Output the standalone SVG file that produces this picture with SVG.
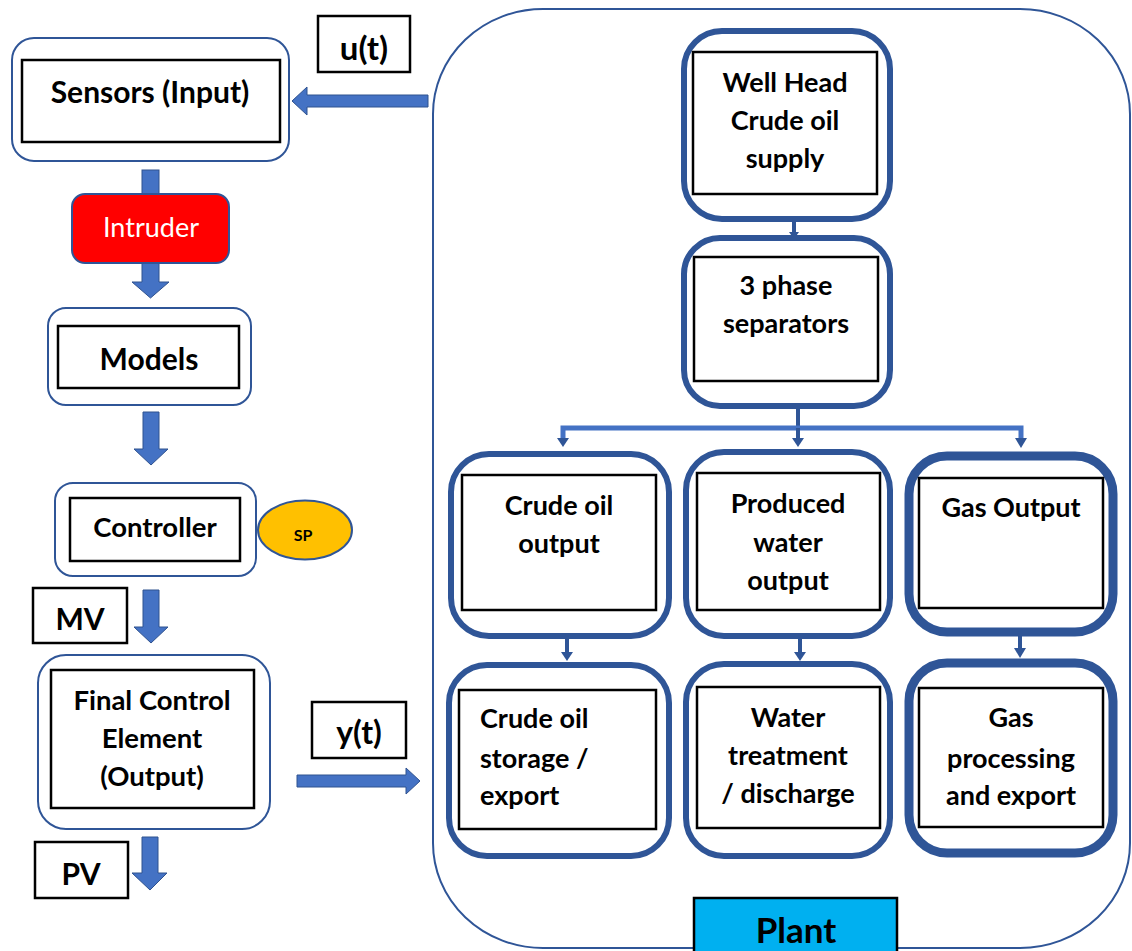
<svg xmlns="http://www.w3.org/2000/svg" width="1132" height="951" viewBox="0 0 1132 951">
  <defs>
    <style>
      .outer { fill: #ffffff; stroke: #2F5597; stroke-width: 2; }
      .inner { fill: #ffffff; stroke: #000000; stroke-width: 2.5; }
      .stage { fill: #ffffff; stroke: #2F5597; stroke-width: 6; }
      .stage-thick { fill: #ffffff; stroke: #2F5597; stroke-width: 9; }
      .label { fill: #ffffff; stroke: #000000; stroke-width: 2.5; }
      .t { font-family: Lato, "Liberation Sans", sans-serif; font-weight: bold; fill: #000000; text-anchor: middle; }
      .ts { text-anchor: start; }
      .big { font-size: 30px; }
      .mid { font-size: 27.5px; }
      .pl { font-size: 27px; }
      .arrow { fill: #4472C4; stroke: #2F528F; stroke-width: 1; }
      .flow { fill: none; stroke: #2F5597; stroke-width: 4; }
      .branch { fill: none; stroke: #4472C4; stroke-width: 5; }
      .head { fill: #2F5597; }
    </style>
  </defs>

  <!-- plant container -->
  <g id="plant">
    <rect x="433" y="9" width="697" height="939" rx="110" ry="105" fill="none" stroke="#2F5597" stroke-width="2"/>
    <rect x="694" y="898" width="203" height="60" fill="#00B0F0" stroke="#000000" stroke-width="2.5"/>
    <text class="t" x="796" y="943" font-size="35">Plant</text>
  </g>

  <!-- block arrows and flow lines -->
  <g id="connectors">
    <!-- plant to sensors -->
    <path class="arrow" d="M428,95 L307,95 L307,87 L292,101 L307,115 L307,107 L428,107 Z"/>
    <!-- sensors to intruder -->
    <rect class="arrow" x="142" y="170" width="17" height="26"/>
    <!-- intruder to models -->
    <path class="arrow" d="M142,263 L159,263 L159,282 L169,282 L150.5,298 L132,282 L142,282 Z"/>
    <!-- models to controller -->
    <path class="arrow" d="M143,412 L159,412 L159,449 L168,449 L151,465 L134,449 L143,449 Z"/>
    <!-- controller to final control element -->
    <path class="arrow" d="M143,590 L159,590 L159,627 L168,627 L151,643 L134,627 L143,627 Z"/>
    <!-- final control element to PV -->
    <path class="arrow" d="M142,837 L158,837 L158,873 L167,873 L150,890 L132,873 L142,873 Z"/>
    <!-- output to plant -->
    <path class="arrow" d="M297,775 L406,775 L406,768 L420,781 L406,794 L406,787 L297,787 Z"/>

    <!-- well head to separators -->
    <line class="flow" x1="794" y1="221" x2="794" y2="234"/>
    <path class="head" d="M789,232 L799,232 L794,239 Z"/>
    <!-- separator branches -->
    <line class="flow" x1="798" y1="407" x2="798" y2="428"/>
    <polyline class="branch" points="563,440 563,428 1021,428 1021,440"/>
    <line class="flow" x1="798" y1="428" x2="798" y2="440"/>
    <path class="head" d="M557,438 L569,438 L563,447 Z"/>
    <path class="head" d="M792,438 L804,438 L798,447 Z"/>
    <path class="head" d="M1015,438 L1027,438 L1021,448 Z"/>
    <!-- outputs to downstream stages -->
    <line class="flow" x1="567" y1="639" x2="567" y2="654"/>
    <path class="head" d="M561,652 L573,652 L567,661 Z"/>
    <line class="flow" x1="800" y1="639" x2="800" y2="654"/>
    <path class="head" d="M794,652 L806,652 L800,661 Z"/>
    <line class="flow" x1="1020" y1="636" x2="1020" y2="650"/>
    <path class="head" d="M1014,648 L1026,648 L1020,658 Z"/>
  </g>

  <!-- control loop -->
  <g id="sensors">
    <rect class="outer" x="12" y="38" width="277" height="123" rx="22"/>
    <rect class="inner" x="22" y="60" width="258" height="82"/>
    <text class="t big" x="150" y="103">Sensors (Input)</text>
  </g>

  <g id="u-label">
    <rect class="label" x="318" y="16" width="92" height="56"/>
    <text class="t" font-size="33" x="364" y="60">u(t)</text>
  </g>

  <g id="intruder">
    <rect x="72" y="194" width="157" height="69" rx="13" fill="#FF0000" stroke="#2F5597" stroke-width="2"/>
    <text x="151" y="237" font-family="Lato, 'Liberation Sans', sans-serif" font-size="27" fill="#ffffff" text-anchor="middle">Intruder</text>
  </g>

  <g id="models">
    <rect class="outer" x="48" y="308" width="203" height="97" rx="18"/>
    <rect class="inner" x="58" y="326" width="181" height="62"/>
    <text class="t big" x="149" y="370">Models</text>
  </g>

  <g id="controller">
    <rect class="outer" x="55" y="483" width="201" height="93" rx="18"/>
    <rect class="inner" x="70" y="498" width="170" height="63"/>
    <text class="t mid" x="155" y="537">Controller</text>
  </g>

  <g id="setpoint">
    <ellipse cx="305" cy="530" rx="47" ry="29.5" fill="#FFC000" stroke="#2F5597" stroke-width="2"/>
    <text class="t" x="303" y="541" font-size="16">SP</text>
  </g>

  <g id="mv-label">
    <rect class="label" x="33" y="588" width="94" height="55"/>
    <text class="t big" x="80" y="630">MV</text>
  </g>

  <g id="final-control-element">
    <rect class="outer" x="38" y="655" width="232" height="174" rx="28"/>
    <rect class="inner" x="51" y="670" width="203" height="138"/>
    <text class="t mid" x="152" y="710">Final Control</text>
    <text class="t mid" x="152" y="748">Element</text>
    <text class="t mid" x="152" y="786">(Output)</text>
  </g>

  <g id="y-label">
    <rect class="label" x="312" y="702" width="94" height="56"/>
    <text class="t" font-size="32" x="359" y="744">y(t)</text>
  </g>

  <g id="pv-label">
    <rect class="label" x="35" y="842" width="93" height="56"/>
    <text class="t big" x="81" y="885">PV</text>
  </g>

  <!-- process stages -->
  <g id="well-head">
    <rect class="stage" x="684" y="31" width="206" height="188" rx="38"/>
    <rect class="inner" x="693" y="52" width="184" height="142"/>
    <text class="t pl" x="785" y="92">Well Head</text>
    <text class="t pl" x="785" y="130">Crude oil</text>
    <text class="t pl" x="785" y="168">supply</text>
  </g>

  <g id="separators">
    <rect class="stage" x="684" y="238" width="206" height="168" rx="36"/>
    <rect class="inner" x="694" y="257" width="184" height="124"/>
    <text class="t pl" x="786" y="295">3 phase</text>
    <text class="t pl" x="786" y="333">separators</text>
  </g>

  <g id="crude-output">
    <rect class="stage" x="451" y="454" width="218" height="182" rx="38"/>
    <rect class="inner" x="462" y="475" width="194" height="135"/>
    <text class="t pl" x="559" y="515">Crude oil</text>
    <text class="t pl" x="559" y="553">output</text>
  </g>

  <g id="water-output">
    <rect class="stage" x="686" y="452" width="204" height="184" rx="38"/>
    <rect class="inner" x="697" y="473" width="183" height="137"/>
    <text class="t pl" x="788" y="513">Produced</text>
    <text class="t pl" x="788" y="552">water</text>
    <text class="t pl" x="788" y="590">output</text>
  </g>

  <g id="gas-output">
    <rect class="stage-thick" x="909" y="456" width="204" height="176" rx="38"/>
    <rect class="inner" x="919" y="478" width="184" height="130"/>
    <text class="t pl" x="1011" y="517">Gas Output</text>
  </g>

  <g id="crude-storage">
    <rect class="stage" x="449" y="665" width="220" height="191" rx="38"/>
    <rect class="inner" x="459" y="690" width="197" height="139"/>
    <text class="t ts pl" x="480" y="728">Crude oil</text>
    <text class="t ts pl" x="480" y="768">storage /</text>
    <text class="t ts pl" x="480" y="805">export</text>
  </g>

  <g id="water-treatment">
    <rect class="stage" x="686" y="664" width="204" height="192" rx="38"/>
    <rect class="inner" x="697" y="687" width="183" height="141"/>
    <text class="t pl" x="788" y="727">Water</text>
    <text class="t pl" x="788" y="765">treatment</text>
    <text class="t pl" x="788" y="803">/ discharge</text>
  </g>

  <g id="gas-processing">
    <rect class="stage-thick" x="909" y="663" width="204" height="190" rx="38"/>
    <rect class="inner" x="919" y="688" width="184" height="139"/>
    <text class="t pl" x="1011" y="727">Gas</text>
    <text class="t pl" x="1011" y="768">processing</text>
    <text class="t pl" x="1011" y="805">and export</text>
  </g>
</svg>
